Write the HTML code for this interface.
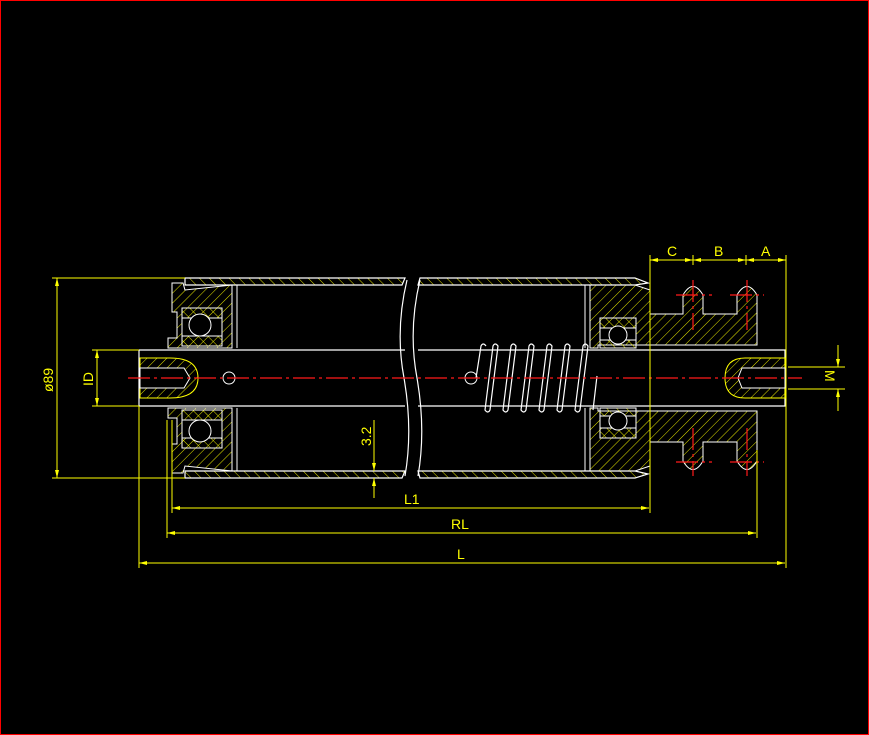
<!DOCTYPE html>
<html><head><style>
html,body{margin:0;padding:0;background:#000;}
svg{display:block;}
text{font-family:"Liberation Sans",sans-serif;fill:#ffff00;font-size:14px;}
</style></head><body>
<svg width="869" height="735" viewBox="0 0 869 735" xmlns="http://www.w3.org/2000/svg">
<defs>
<pattern id="h1" width="7" height="7" patternUnits="userSpaceOnUse" patternTransform="rotate(45)">
<line x1="0" y1="0" x2="0" y2="7" stroke="#ffff00" stroke-width="0.9"/>
</pattern>
<pattern id="h2" width="7" height="7" patternUnits="userSpaceOnUse" patternTransform="rotate(-45)">
<line x1="0" y1="0" x2="0" y2="7" stroke="#ffff00" stroke-width="0.9"/>
</pattern>
<marker id="ar" markerWidth="8" markerHeight="6" refX="8" refY="3" orient="auto-start-reverse" markerUnits="userSpaceOnUse">
<path d="M0,1 L8,3 L0,5 Z" fill="#ffff00"/>
</marker>
</defs>
<rect x="0.5" y="0.5" width="868" height="734" fill="#000" stroke="#ff0000"/>

<!-- tube walls (hatched) -->
<g stroke="#fff" stroke-width="1.2">
<path d="M185,278 L405,278 L402,285 L185,285 Z" fill="url(#h2)"/>
<path d="M420,278 L635,278 L648,283 L635,285 L418,285 Z" fill="url(#h2)"/>
<path d="M185,471 L405,471 L402,478 L185,478 Z" fill="url(#h2)"/>
<path d="M418,471 L635,471 L648,474 L635,478 L420,478 Z" fill="url(#h2)"/>
</g>
<!-- break curves -->
<g stroke="#fff" stroke-width="1.2" fill="none">
<path d="M407,280 Q395,330 404,378 Q413,430 405,476"/>
<path d="M420,280 Q408,330 417,378 Q426,430 418,476"/>
</g>

<!-- left end cap -->
<g stroke="#fff" stroke-width="1">
<path d="M172,283 L183,283 L185,290 L232,285 L232,348 L168,348 L168,338 L177,338 L177,312 L172,312 Z" fill="url(#h1)"/>
<path d="M172,473 L183,473 L185,466 L232,471 L232,408 L168,408 L168,418 L177,418 L177,444 L172,444 Z" fill="url(#h1)"/>
<rect x="182" y="308" width="40" height="38" fill="url(#h2)"/>
<rect x="182" y="410" width="40" height="38" fill="url(#h2)"/>
<rect x="182" y="318" width="40" height="18" fill="#000"/>
<rect x="182" y="420" width="40" height="18" fill="#000"/>
<circle cx="200" cy="325" r="11" fill="#000"/>
<circle cx="200" cy="431" r="11" fill="#000"/>
<line x1="237" y1="285" x2="237" y2="348"/>
<line x1="237" y1="408" x2="237" y2="471"/>
</g>
<!-- right end cap -->
<g stroke="#fff" stroke-width="1">
<path d="M590,285 L635,285 L650,290 L650,314 L683,314 L683,295 Q693,278 703,295 L703,314 L737,314 L737,295 Q747,278 757,295 L757,345 L598,345 L598,348 L590,348 Z" fill="url(#h1)"/>
<path d="M590,471 L635,471 L650,466 L650,442 L683,442 L683,461 Q693,478 703,461 L703,442 L737,442 L737,461 Q747,478 757,461 L757,411 L598,411 L598,408 L590,408 Z" fill="url(#h1)"/>
<rect x="600" y="318" width="36" height="30" fill="url(#h2)"/>
<rect x="600" y="408" width="36" height="30" fill="url(#h2)"/>
<rect x="600" y="328" width="36" height="12" fill="#000"/>
<rect x="600" y="416" width="36" height="12" fill="#000"/>
<circle cx="618" cy="335" r="9" fill="#000"/>
<circle cx="618" cy="421" r="9" fill="#000"/>
<line x1="585" y1="285" x2="585" y2="348"/>
<line x1="585" y1="408" x2="585" y2="471"/>
</g>

<!-- shaft -->
<g stroke="#fff" stroke-width="1.2" fill="none">
<path d="M139,350 L405,350 M418,350 L785,350 L785,406 L418,406 M405,406 L139,406"/>
<line x1="139" y1="350" x2="139" y2="406"/>
</g>
<!-- shaft end holes -->
<g stroke="#ffff00" stroke-width="1">
<path d="M140,358 L170,358 Q198,358 198,378 Q198,398 170,398 L140,398 Z" fill="url(#h1)"/>
<path d="M785,358 L745,358 Q725,358 725,378 Q725,398 745,398 L785,398 Z" fill="url(#h1)"/>
</g>
<g stroke="#fff" stroke-width="1" fill="#000">
<path d="M140,368 L184,368 L190,378 L184,388 L140,388 Z"/>
<path d="M785,368 L742,368 L738,378 L742,388 L785,388 Z"/>
<circle cx="229" cy="378" r="6"/>
<circle cx="471" cy="378" r="6"/>
</g>
<!-- spring -->
<g stroke="#fff" stroke-width="1.2" fill="none">
<path d="M476,378 L481,346 Q483,342 486,346"/>
<path d="M485,410 L493,346 Q495,342 498,346 L490,410 Q488,414 485,410 Z"/>
<path d="M503,410 L511,346 Q513,342 516,346 L508,410 Q506,414 503,410 Z"/>
<path d="M521,410 L529,346 Q531,342 534,346 L526,410 Q524,414 521,410 Z"/>
<path d="M539,410 L547,346 Q549,342 552,346 L544,410 Q542,414 539,410 Z"/>
<path d="M557,410 L565,346 Q567,342 570,346 L562,410 Q560,414 557,410 Z"/>
<path d="M575,410 L583,346 Q585,342 588,346 L580,410 Q578,414 575,410 Z"/>
<path d="M593,410 L597,376"/>
</g>

<!-- centerlines -->
<g stroke="#ff1a1a" stroke-width="1.2" stroke-dasharray="22,4,3,4">
<line x1="128" y1="378" x2="802" y2="378"/>
<line x1="693" y1="280" x2="693" y2="330"/>
<line x1="747" y1="280" x2="747" y2="330"/>
<line x1="693" y1="428" x2="693" y2="476"/>
<line x1="747" y1="428" x2="747" y2="476"/>
<line x1="676" y1="295" x2="712" y2="295"/>
<line x1="730" y1="295" x2="764" y2="295"/>
<line x1="676" y1="462" x2="712" y2="462"/>
<line x1="730" y1="462" x2="764" y2="462"/>
</g>

<!-- dimensions -->
<g stroke="#ffff00" stroke-width="1" fill="none">
<line x1="52" y1="278" x2="185" y2="278"/>
<line x1="52" y1="478" x2="185" y2="478"/>
<line x1="57" y1="278" x2="57" y2="478" marker-start="url(#ar)" marker-end="url(#ar)"/>
<line x1="92" y1="350" x2="139" y2="350"/>
<line x1="92" y1="406" x2="139" y2="406"/>
<line x1="97" y1="350" x2="97" y2="406" marker-start="url(#ar)" marker-end="url(#ar)"/>
<line x1="139" y1="406" x2="139" y2="568"/>
<line x1="167" y1="420" x2="167" y2="538"/>
<line x1="172" y1="420" x2="172" y2="513"/>
<line x1="650" y1="255" x2="650" y2="513"/>
<line x1="757" y1="450" x2="757" y2="538"/>
<line x1="786" y1="255" x2="786" y2="568"/>
<line x1="693" y1="255" x2="693" y2="265"/>
<line x1="746" y1="255" x2="746" y2="265"/>
<line x1="172" y1="508" x2="649" y2="508" marker-start="url(#ar)" marker-end="url(#ar)"/>
<line x1="167" y1="533" x2="756" y2="533" marker-start="url(#ar)" marker-end="url(#ar)"/>
<line x1="139" y1="563" x2="785" y2="563" marker-start="url(#ar)" marker-end="url(#ar)"/>
<line x1="650" y1="260" x2="693" y2="260" marker-start="url(#ar)" marker-end="url(#ar)"/>
<line x1="693" y1="260" x2="746" y2="260" marker-start="url(#ar)" marker-end="url(#ar)"/>
<line x1="746" y1="260" x2="786" y2="260" marker-start="url(#ar)" marker-end="url(#ar)"/>
<line x1="788" y1="367" x2="845" y2="367"/>
<line x1="788" y1="389" x2="845" y2="389"/>
<line x1="838" y1="345" x2="838" y2="367" marker-end="url(#ar)"/>
<line x1="838" y1="411" x2="838" y2="389" marker-end="url(#ar)"/>
<line x1="374" y1="420" x2="374" y2="471" marker-end="url(#ar)"/>
<line x1="374" y1="498" x2="374" y2="478" marker-end="url(#ar)"/>
</g>
<text x="404" y="504" font-size="15">L1</text>
<text x="451" y="529" font-size="15">RL</text>
<text x="457" y="559" font-size="15">L</text>
<text x="667" y="256" font-size="14">C</text>
<text x="714" y="256" font-size="14">B</text>
<text x="761" y="256" font-size="14">A</text>
<text transform="translate(53,392) rotate(-90)" font-size="14">ø89</text>
<text transform="translate(93,386) rotate(-90)" font-size="14">ID</text>
<text transform="translate(371,446) rotate(-90)" font-size="14">3.2</text>
<text transform="translate(825,370) rotate(90)" font-size="14">M</text>
</svg>
</body></html>
